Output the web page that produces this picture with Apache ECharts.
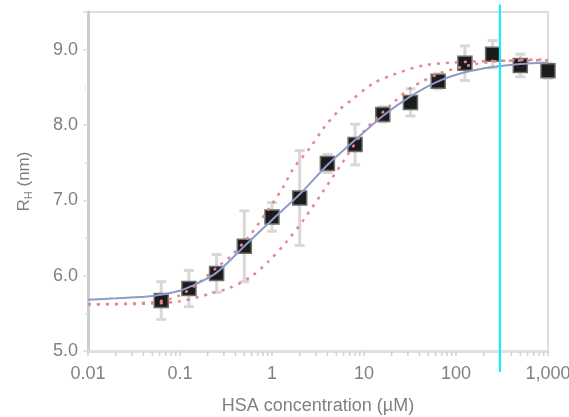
<!DOCTYPE html>
<html>
<head>
<meta charset="utf-8">
<script src="https://cdn.jsdelivr.net/npm/echarts@6/dist/echarts.min.js"></script>
<style>
  html, body { margin: 0; padding: 0; background: #fff; }
  #chart { width: 569px; height: 417px; }
</style>
</head>
<body>
<div id="chart"></div>
<script>
// measured points (HSA concentration in µM, hydrodynamic radius in nm)
const concentration = [0.0625, 0.125, 0.25, 0.5, 1, 2, 4, 8, 16, 32, 64, 125, 250, 500, 1000];
const radius = [5.67, 5.83, 6.03, 6.39, 6.78, 7.03, 7.49, 7.74, 8.14, 8.30, 8.58, 8.82, 8.94, 8.79, 8.72];
const radiusErr = [0.25, 0.24, 0.25, 0.47, 0.19, 0.63, 0.12, 0.27, 0.1, 0.18, 0.1, 0.23, 0.18, 0.15, 0.1];

// fitted curve (solid blue)
const fitX = [0.01, 0.02, 0.05, 0.1, 0.15, 0.25, 0.5, 1, 2, 4, 8, 16, 32, 64, 125, 250, 500, 1000];
const fitY = [5.68, 5.70, 5.73, 5.80, 5.89, 6.04, 6.39, 6.74, 7.08, 7.47, 7.80, 8.12, 8.38, 8.58, 8.70, 8.77, 8.81, 8.83];

// dotted bounds
const upperX = [0.01, 0.03, 0.06, 0.1, 0.165, 0.27, 0.35, 0.58, 0.95, 1.33, 1.7, 2.6, 3.7, 5.5, 7.3, 12.5, 21, 44, 95, 250, 1000];
const upperY = [5.62, 5.63, 5.66, 5.74, 5.92, 6.14, 6.25, 6.54, 6.91, 7.18, 7.42, 7.70, 7.97, 8.21, 8.33, 8.55, 8.67, 8.79, 8.83, 8.85, 8.86];
const lowerX = [0.01, 0.05, 0.1, 0.164, 0.21, 0.35, 0.58, 0.9, 1.44, 2.2, 3.6, 5.9, 10.2, 21, 33, 72, 150, 300, 1000];
const lowerY = [5.62, 5.63, 5.66, 5.72, 5.76, 5.84, 5.98, 6.18, 6.45, 6.74, 7.12, 7.51, 7.93, 8.30, 8.50, 8.70, 8.80, 8.85, 8.87];

// vertical marker
const markerX = 300;
const markerSpan = [9.6, 4.72];

// tick labels
const xTickValues = [0.01, 0.1, 1, 10, 100, 1000];
const xTickLabels = ['0.01', '0.1', '1', '10', '100', '1,000'];
const minorMultipliers = [2, 3, 4, 5, 6, 7, 8, 9];

const minorTicks = [];
for (let d = 0; d < xTickValues.length - 1; d++) {
  for (const m of minorMultipliers) {
    minorTicks.push([xTickValues[d] * m]);
  }
}

const zip = (xs, ys) => xs.map((x, i) => [x, ys[i]]);

const chart = echarts.init(document.getElementById('chart'));

const labelColor = '#808080';
const fontFamily = 'Liberation Sans, Arial, sans-serif';

chart.setOption({
  animation: false,
  grid: {
    left: 88,
    right: 21,
    top: 12,
    bottom: 66,
    outerBoundsMode: 'none',
    containLabel: false,
    show: true,
    borderColor: '#dedede',
    borderWidth: 2
  },
  xAxis: {
    type: 'log',
    logBase: 10,
    min: 0.01,
    max: 1000,
    name: 'HSA concentration (µM)',
    nameLocation: 'middle',
    nameGap: 46,
    nameTextStyle: { color: labelColor, fontSize: 18, fontFamily: fontFamily },
    axisLine: { lineStyle: { color: '#e0e0e0', width: 3 } },
    axisTick: { length: 5, lineStyle: { color: '#d0d0d0', width: 1.5 } },
    splitLine: { show: false },
    axisLabel: {
      color: labelColor,
      fontSize: 18,
      fontFamily: fontFamily,
      margin: 14,
      formatter: function (v) {
        const i = xTickValues.findIndex(t => Math.abs(Math.log10(t) - Math.log10(v)) < 1e-6);
        return i >= 0 ? xTickLabels[i] : '';
      }
    }
  },
  yAxis: {
    type: 'value',
    min: 5,
    max: 9.5,
    interval: 1,
    name: '{r|R}{sub|H}{r| (nm)}',
    nameLocation: 'middle',
    nameRotate: 90,
    nameGap: 54,
    nameTextStyle: {
      color: labelColor,
      fontFamily: fontFamily,
      rich: {
        r: { fontSize: 17, color: labelColor, fontFamily: fontFamily },
        sub: { fontSize: 11, color: labelColor, fontFamily: fontFamily, padding: [9, 0, 0, 0] }
      }
    },
    axisLine: { show: true, lineStyle: { color: '#cccccc', width: 3 } },
    axisTick: { show: true, length: 5, lineStyle: { color: '#dddddd', width: 1.5 } },
    minorTick: { show: true, splitNumber: 2, length: 3, lineStyle: { color: '#dddddd', width: 1.5 } },
    splitLine: { show: false },
    axisLabel: {
      color: labelColor,
      fontSize: 18,
      fontFamily: fontFamily,
      margin: 10,
      showMaxLabel: false,
      formatter: v => v.toFixed(1)
    }
  },
  series: [
    {
      // log-spaced minor ticks on the x axis
      type: 'custom',
      clip: false,
      silent: true,
      z: 1,
      data: minorTicks,
      renderItem: function (params, api) {
        const p = api.coord([api.value(0), 5]);
        return {
          type: 'line',
          shape: { x1: p[0], y1: p[1] + 1, x2: p[0], y2: p[1] + 5 },
          style: { stroke: '#d0d0d0', lineWidth: 1.5 }
        };
      }
    },
    {
      // error bars
      type: 'custom',
      silent: true,
      z: 2,
      data: concentration.map((c, i) => [c, radius[i], radiusErr[i]]),
      renderItem: function (params, api) {
        const x = api.value(0), y = api.value(1), e = api.value(2);
        const top = api.coord([x, y + e]);
        const bot = api.coord([x, y - e]);
        const hw = 5;
        const st = { stroke: '#d8d8d8', lineWidth: 3 };
        return {
          type: 'group',
          children: [
            { type: 'line', shape: { x1: top[0], y1: top[1], x2: bot[0], y2: bot[1] }, style: st },
            { type: 'line', shape: { x1: top[0] - hw, y1: top[1], x2: top[0] + hw, y2: top[1] }, style: st },
            { type: 'line', shape: { x1: bot[0] - hw, y1: bot[1], x2: bot[0] + hw, y2: bot[1] }, style: st }
          ]
        };
      }
    },
    {
      type: 'scatter',
      z: 3,
      symbol: 'rect',
      symbolSize: 14,
      itemStyle: { color: '#1b1b1b', borderColor: '#6e6e6e', borderWidth: 1.5, opacity: 1 },
      data: zip(concentration, radius)
    },
    {
      type: 'line',
      z: 4,
      smooth: 0.3,
      showSymbol: false,
      lineStyle: { color: '#e8868f', width: 2.5, type: [3, 6] },
      data: zip(upperX, upperY)
    },
    {
      type: 'line',
      z: 4,
      smooth: 0.3,
      showSymbol: false,
      lineStyle: { color: '#e8868f', width: 2.5, type: [3, 6] },
      data: zip(lowerX, lowerY)
    },
    {
      type: 'line',
      z: 5,
      smooth: 0.3,
      showSymbol: false,
      lineStyle: { color: '#8e9bc8', width: 2 },
      data: zip(fitX, fitY)
    },
    {
      // cyan marker line, extends past the plot frame
      type: 'custom',
      clip: false,
      silent: true,
      z: 6,
      data: [[markerX, markerSpan[0], markerSpan[1]]],
      renderItem: function (params, api) {
        const a = api.coord([api.value(0), api.value(1)]);
        const b = api.coord([api.value(0), api.value(2)]);
        return {
          type: 'line',
          shape: { x1: a[0], y1: a[1], x2: b[0], y2: b[1] },
          style: { stroke: '#00f0ff', lineWidth: 2 }
        };
      }
    }
  ]
});
</script>
</body>
</html>
